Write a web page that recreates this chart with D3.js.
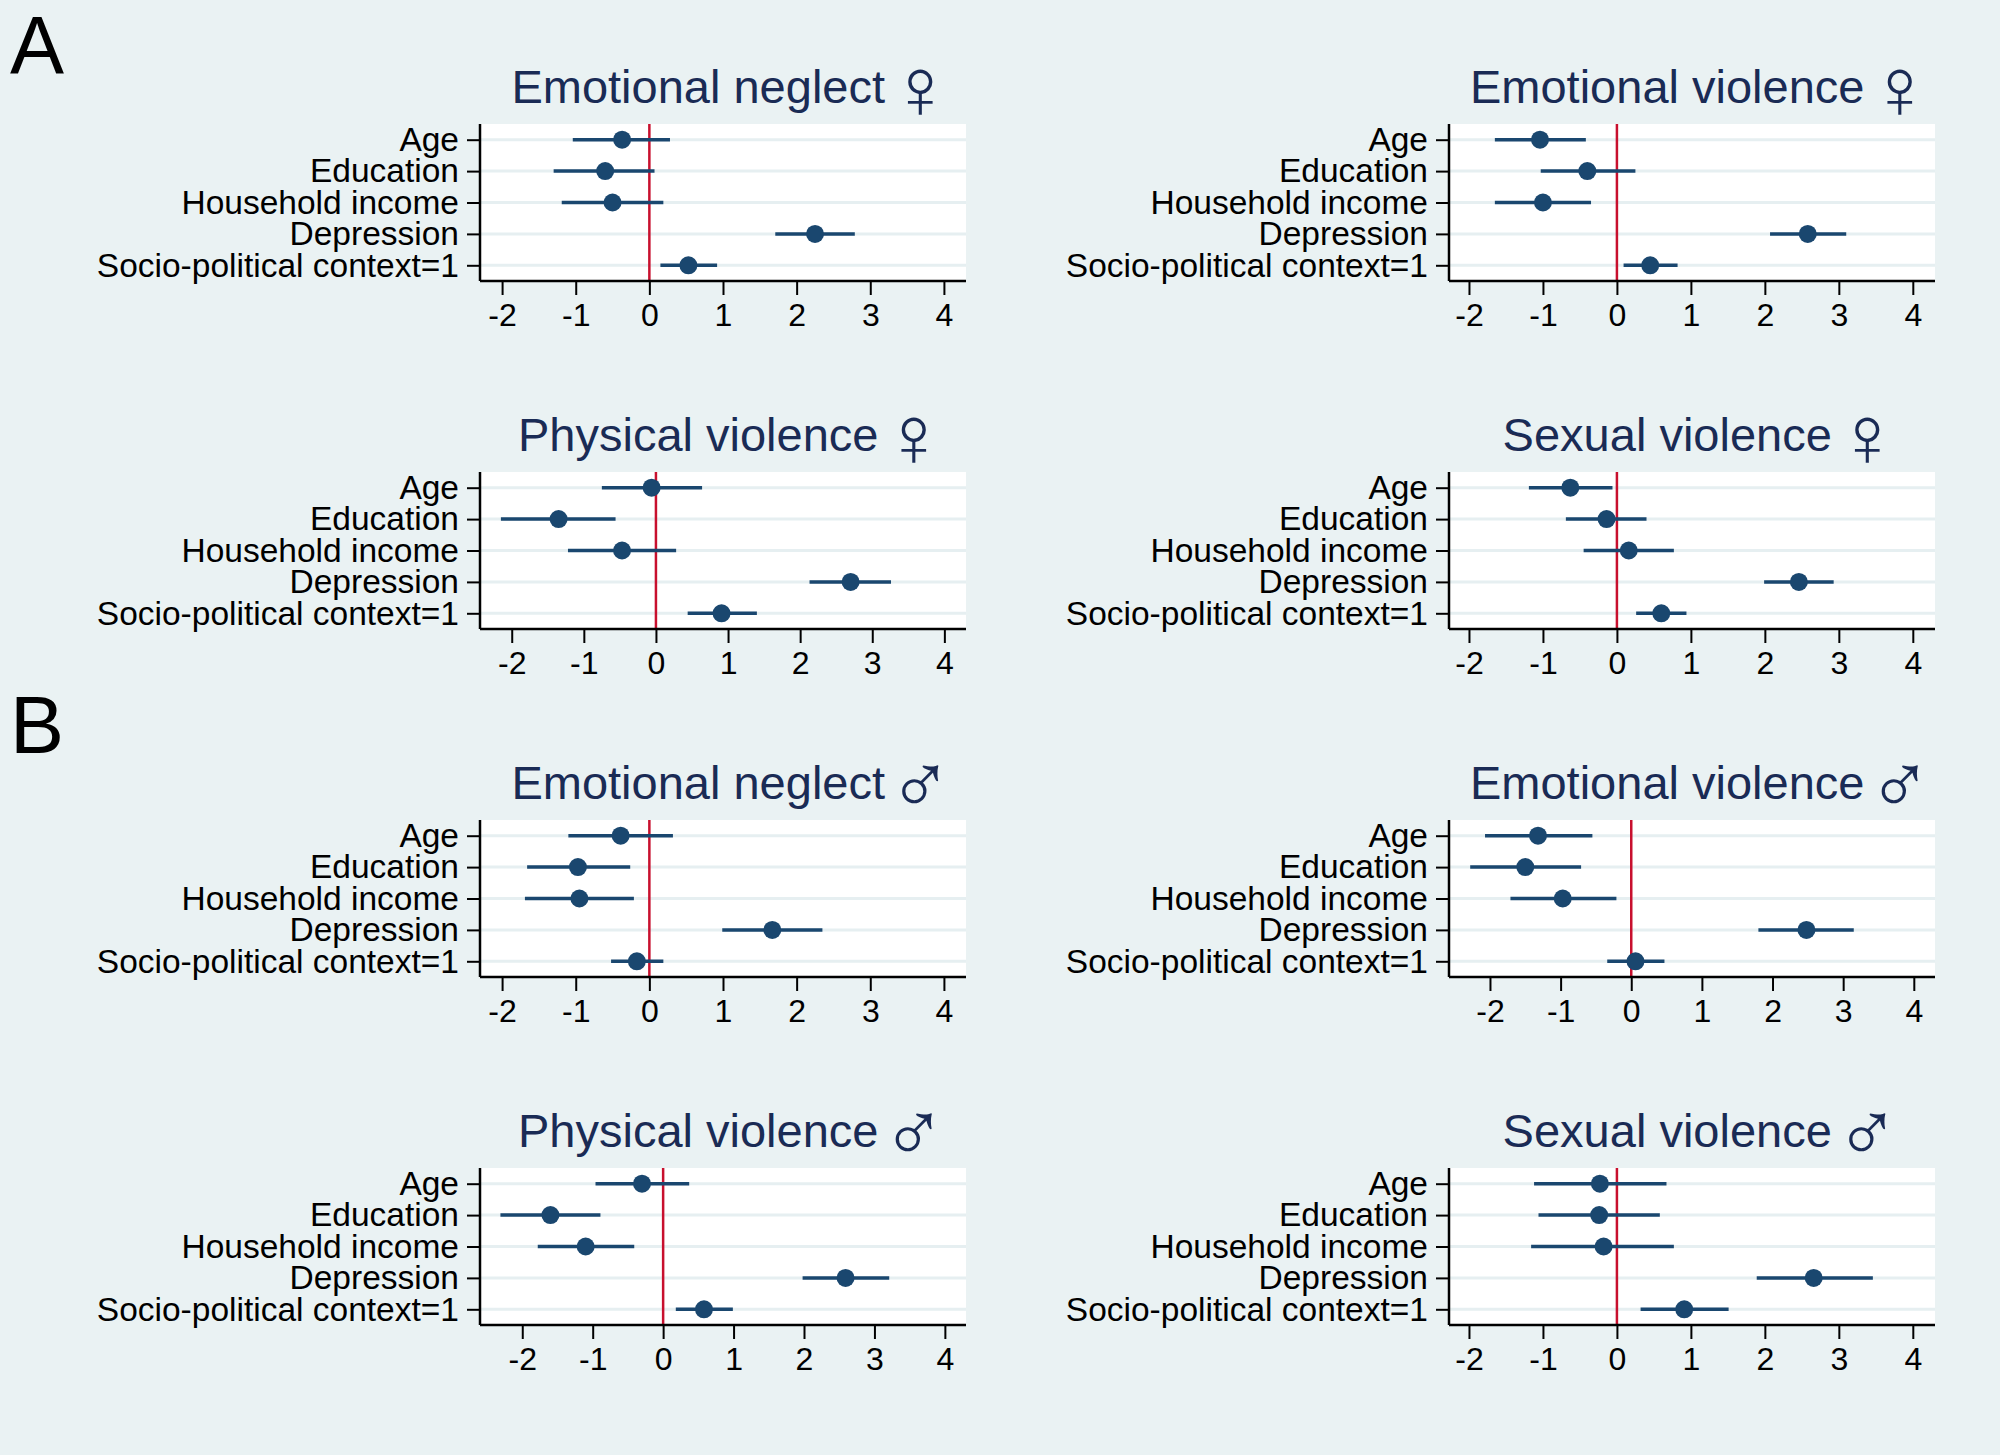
<!DOCTYPE html>
<html>
<head>
<meta charset="utf-8">
<script src="https://cdn.jsdelivr.net/npm/d3@7"></script>
<style>
  body { margin: 0; background: #eaf2f3; }
  svg { display: block; }
</style>
</head>
<body>
<svg width="2000" height="1455"></svg>
<script>
const predictors = ["Age", "Education", "Household income", "Depression", "Socio-political context=1"];

const panelTitles = [
  "Emotional neglect", "Emotional violence",
  "Physical violence", "Sexual violence",
  "Emotional neglect", "Emotional violence",
  "Physical violence", "Sexual violence"
];
const panelSymbols = ["♀", "♀", "♀", "♀", "♂", "♂", "♂", "♂"];
const sectionLetters = ["A", "B"];

// point estimates, one array per panel, in predictor order
const estimates = [
  [-0.37, -0.60, -0.50, 2.25, 0.53],
  [-1.04, -0.40, -1.00, 2.58, 0.45],
  [-0.06, -1.35, -0.47, 2.70, 0.91],
  [-0.63, -0.14, 0.16, 2.46, 0.60],
  [-0.39, -0.97, -0.95, 1.67, -0.17],
  [-1.32, -1.50, -0.97, 2.48, 0.06],
  [-0.30, -1.60, -1.10, 2.59, 0.58],
  [-0.23, -0.24, -0.18, 2.66, 0.91]
];
const lowerCI = [
  [-1.04, -1.30, -1.19, 1.71, 0.15],
  [-1.65, -1.03, -1.65, 2.07, 0.09],
  [-0.75, -2.15, -1.22, 2.13, 0.44],
  [-1.19, -0.69, -0.45, 1.99, 0.26],
  [-1.10, -1.66, -1.69, 0.99, -0.52],
  [-2.07, -2.28, -1.71, 1.80, -0.34],
  [-0.96, -2.31, -1.78, 1.98, 0.18],
  [-1.12, -1.06, -1.16, 1.89, 0.32]
];
const upperCI = [
  [0.28, 0.07, 0.19, 2.79, 0.92],
  [-0.42, 0.25, -0.35, 3.10, 0.82],
  [0.64, -0.56, 0.28, 3.26, 1.40],
  [-0.06, 0.40, 0.77, 2.93, 0.94],
  [0.32, -0.26, -0.21, 2.35, 0.19],
  [-0.55, -0.71, -0.21, 3.15, 0.47],
  [0.37, -0.89, -0.41, 3.21, 0.99],
  [0.67, 0.58, 0.77, 3.46, 1.51]
];

const xTicks = [-2, -1, 0, 1, 2, 3, 4];
const xDomainMin = [-2.30, -2.27, -2.44, -2.27, -2.30, -2.58, -2.60, -2.27];
const xDomainMax = 4.30;

const root = d3.select("svg");

const layout = {
  colLeft: [480, 1449],
  plotWidth: 486,
  rowTop: [124, 472, 820, 1168],
  plotHeight: 157
};

const colors = {
  bg: "#eaf2f3",
  plot: "#ffffff",
  grid: "#e6eff1",
  marker: "#1a476f",
  title: "#1a2b55",
  ref: "#c8102e"
};

const font = "'Liberation Sans', Arial, sans-serif";

root.append("rect")
  .attr("width", 2000)
  .attr("height", 1455)
  .attr("fill", colors.bg);

root.selectAll(".section-letter")
  .data(sectionLetters)
  .enter().append("text")
  .attr("class", "section-letter")
  .attr("x", 10)
  .attr("y", (d, i) => i === 0 ? 73 : 753)
  .attr("font-family", font)
  .attr("font-size", 81)
  .attr("fill", "#000")
  .text((d) => d);

const drawPanel = (p) => {
  const col = p % 2;
  const row = Math.floor(p / 2);
  const g = root.append("g")
    .attr("transform", `translate(${layout.colLeft[col]}, ${layout.rowTop[row]})`);

  const x = d3.scaleLinear()
    .domain([xDomainMin[p], xDomainMax])
    .range([0, layout.plotWidth]);
  const y = d3.scalePoint()
    .domain(predictors)
    .range([0, layout.plotHeight])
    .padding(0.5);

  g.append("rect")
    .attr("width", layout.plotWidth)
    .attr("height", layout.plotHeight)
    .attr("fill", colors.plot);

  g.selectAll(".grid")
    .data(predictors)
    .enter().append("line")
    .attr("class", "grid")
    .attr("x1", 0)
    .attr("x2", layout.plotWidth)
    .attr("y1", (d) => y(d))
    .attr("y2", (d) => y(d))
    .attr("stroke", colors.grid)
    .attr("stroke-width", 3);

  // reference line at zero
  g.append("line")
    .attr("x1", x(0))
    .attr("x2", x(0))
    .attr("y1", 0)
    .attr("y2", layout.plotHeight)
    .attr("stroke", colors.ref)
    .attr("stroke-width", 2.5);

  const rows = predictors.map((name, i) => ({
    name,
    est: estimates[p][i],
    lo: lowerCI[p][i],
    hi: upperCI[p][i]
  }));

  g.selectAll(".ci")
    .data(rows)
    .enter().append("line")
    .attr("class", "ci")
    .attr("x1", (d) => x(d.lo))
    .attr("x2", (d) => x(d.hi))
    .attr("y1", (d) => y(d.name))
    .attr("y2", (d) => y(d.name))
    .attr("stroke", colors.marker)
    .attr("stroke-width", 3.5);

  g.selectAll(".dot")
    .data(rows)
    .enter().append("circle")
    .attr("class", "dot")
    .attr("cx", (d) => x(d.est))
    .attr("cy", (d) => y(d.name))
    .attr("r", 9)
    .attr("fill", colors.marker);

  const yAxis = g.append("g")
    .call(d3.axisLeft(y).tickSize(13).tickPadding(8));
  const xAxis = g.append("g")
    .attr("transform", `translate(0, ${layout.plotHeight})`)
    .call(d3.axisBottom(x).tickValues(xTicks).tickFormat((d) => String(d)).tickSize(14).tickPadding(8));

  [yAxis, xAxis].forEach((ax) => {
    ax.select(".domain")
      .attr("stroke", "#000")
      .attr("stroke-width", 2.5);
    ax.selectAll(".tick line")
      .attr("stroke", "#000")
      .attr("stroke-width", 2);
    ax.selectAll(".tick text")
      .attr("fill", "#000")
      .attr("font-family", font);
  });
  yAxis.selectAll(".tick text").attr("font-size", 33.5);
  xAxis.selectAll(".tick text").attr("font-size", 32);
  xAxis.select(".domain").attr("d", `M0,0H${layout.plotWidth}`);
  yAxis.select(".domain").attr("d", `M0,0V${layout.plotHeight}`);

  const title = g.append("text")
    .attr("x", layout.plotWidth / 2 + 9)
    .attr("y", -21)
    .attr("text-anchor", "middle")
    .attr("font-family", font)
    .attr("font-size", 47)
    .attr("fill", colors.title);
  title.append("tspan").text(panelTitles[p] + " ");
  title.append("tspan")
    .attr("font-family", "'DejaVu Sans'")
    .attr("font-weight", 200)
    .attr("font-size", 86)
    .attr("dx", -10)
    .attr("dy", 15)
    .text(panelSymbols[p]);
};

d3.range(estimates.length).forEach(drawPanel);
</script>
</body>
</html>
